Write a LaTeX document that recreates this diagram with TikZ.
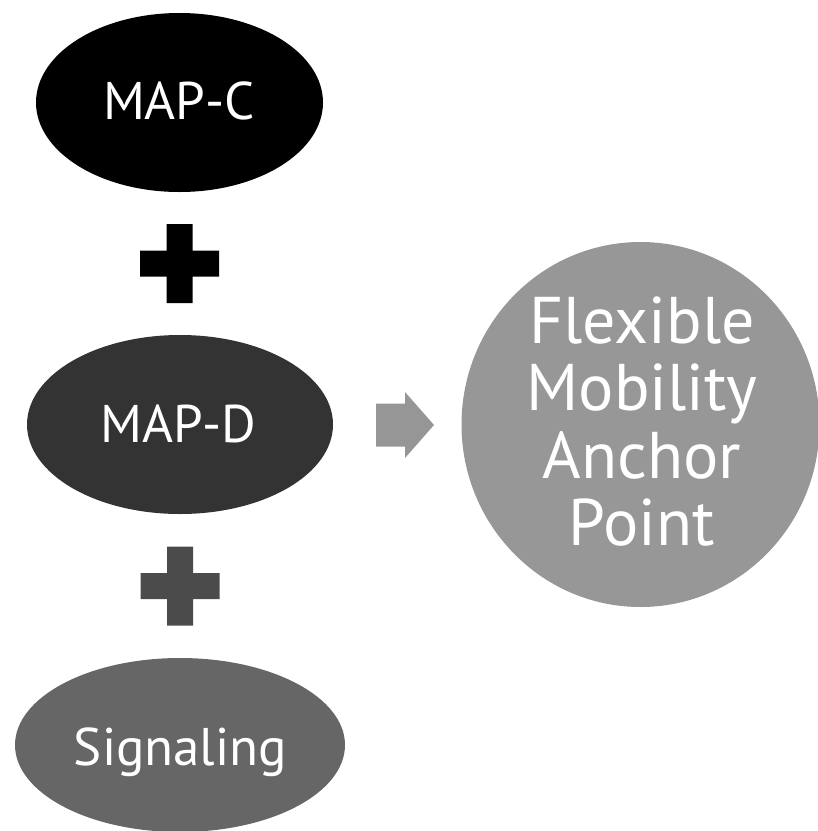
\documentclass[tikz,border=0pt]{standalone}
\usepackage{fontspec}
\setmainfont{PT Sans}
\usetikzlibrary{shapes.geometric}
\definecolor{cD}{HTML}{333333}
\definecolor{cP}{HTML}{4B4B4B}
\definecolor{cS}{HTML}{666666}
\definecolor{cA}{HTML}{969696}
\definecolor{cF}{HTML}{979797}
\begin{document}
\begin{tikzpicture}[x=1pt,y=-1pt,
  blob/.style={ellipse,draw=none,inner sep=0pt},
  lbl/.style={text=white,inner sep=0pt,anchor=base,font=\fontsize{53}{60}\selectfont},
  flbl/.style={text=white,inner sep=0pt,anchor=base,font=\fontsize{66}{67}\selectfont}]
\useasboundingbox (0,0) rectangle (818,831);
\begin{scope}
\clip (0,0) rectangle (818,831);
\node[blob,fill=black,minimum width=287pt,minimum height=179pt] (mapc) at (179.5,102.5) {};
\node[blob,fill=cD,minimum width=306pt,minimum height=179pt] (mapd) at (180,424.5) {};
\node[blob,fill=cS,minimum width=330pt,minimum height=174pt] (sig) at (180,745) {};
\node[blob,fill=cF,minimum width=358pt,minimum height=365pt] (fmap) at (640.5,424.5) {};
% plus signs
\coordinate (p1) at (179.5,263.5);
\coordinate (p2) at (180,586);
\fill[black] ([shift={(-13,-39.5)}]p1) -- ([shift={(13,-39.5)}]p1) -- ([shift={(13,-13)}]p1) -- ([shift={(39.5,-13)}]p1) -- ([shift={(39.5,13)}]p1) -- ([shift={(13,13)}]p1) -- ([shift={(13,39.5)}]p1) -- ([shift={(-13,39.5)}]p1) -- ([shift={(-13,13)}]p1) -- ([shift={(-39.5,13)}]p1) -- ([shift={(-39.5,-13)}]p1) -- ([shift={(-13,-13)}]p1) -- cycle;
\fill[cP] ([shift={(-13,-39.5)}]p2) -- ([shift={(13,-39.5)}]p2) -- ([shift={(13,-13)}]p2) -- ([shift={(39.5,-13)}]p2) -- ([shift={(39.5,13)}]p2) -- ([shift={(13,13)}]p2) -- ([shift={(13,39.5)}]p2) -- ([shift={(-13,39.5)}]p2) -- ([shift={(-13,13)}]p2) -- ([shift={(-39.5,13)}]p2) -- ([shift={(-39.5,-13)}]p2) -- ([shift={(-13,-13)}]p2) -- cycle;
% block arrow
\coordinate (ar) at (376,425);
\fill[cA] ([shift={(0,-21.5)}]ar) -- ([shift={(29,-21.5)}]ar) -- ([shift={(29,-33)}]ar) -- ([shift={(58,0)}]ar) -- ([shift={(29,33)}]ar) -- ([shift={(29,21.5)}]ar) -- ([shift={(0,21.5)}]ar) -- cycle;
% labels
\node[lbl] (tc) at (179,119) {MAP-C};
\node[lbl] (td) at (178.5,442) {MAP-D};
\node[lbl] (ts) at (180.5,765) {Signaling};
\node[flbl] (f1) at (642,343) {Flexible};
\node[flbl] (f2) at (642,410) {Mobility};
\node[flbl] (f3) at (642,478) {Anchor};
\node[flbl] (f4) at (642,545) {Point};
\end{scope}
\end{tikzpicture}
\end{document}
